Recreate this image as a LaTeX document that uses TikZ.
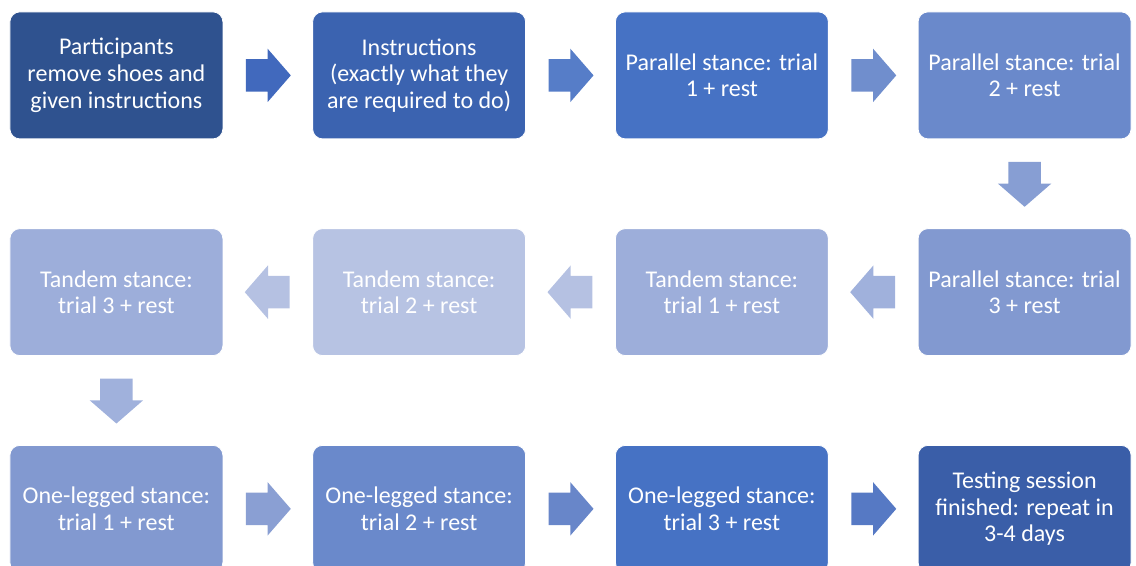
\documentclass[tikz,border=0pt]{standalone}
\usepackage{fontspec}
\setmainfont{Carlito}
\usetikzlibrary{positioning,shapes.arrows}

\definecolor{st1}{RGB}{47,82,143}
\definecolor{st2}{RGB}{59,99,176}
\definecolor{st3}{RGB}{70,114,196}
\definecolor{st4}{RGB}{106,137,203}
\definecolor{st5}{RGB}{130,153,208}
\definecolor{st6}{RGB}{157,174,218}
\definecolor{st7}{RGB}{183,195,227}
\definecolor{st12}{RGB}{58,94,168}
\definecolor{ar1}{RGB}{65,105,189}
\definecolor{ar2}{RGB}{86,125,200}
\definecolor{ar3}{RGB}{112,142,205}
\definecolor{ar4}{RGB}{135,158,211}
\definecolor{ar5}{RGB}{160,177,220}
\definecolor{ar6}{RGB}{181,193,226}
\definecolor{ar9}{RGB}{138,159,211}
\definecolor{ar10}{RGB}{104,134,201}
\definecolor{ar11}{RGB}{86,121,196}

\begin{document}
\begin{tikzpicture}[x=0.75pt,y=0.75pt,node distance=66.7pt,
    stage/.style={rectangle, rounded corners=7.5pt, minimum width=159.75pt,
      minimum height=95.25pt, inner sep=0pt, text=white, align=center,
      font=\fontsize{18}{20}\selectfont, draw=white, line width=0.6pt},
    blk/.style={single arrow, minimum height=33.75pt,
      single arrow head extend=7.875pt, single arrow tip angle=98,
      inner xsep=0pt, inner ysep=12pt, draw=none}]
  \useasboundingbox (0,0) rectangle (1136,-566);
  % first row, left to right
  \node[stage, fill=st1, anchor=north west] (s1) at (9.5,-11.5)
    {Participants\\remove shoes and\\given instructions};
  \node[stage, fill=st2, right=of s1] (s2)
    {Instructions\\(exactly what they\\are required to do)};
  \node[stage, fill=st3, right=of s2] (s3) {Parallel stance: trial\\1 + rest};
  \node[stage, fill=st4, right=of s3] (s4) {Parallel stance: trial\\2 + rest};
  % second row, right to left
  \node[stage, fill=st5, below=of s4] (s5) {Parallel stance: trial\\3 + rest};
  \node[stage, fill=st6, left=of s5] (s6) {Tandem stance:\\trial 1 + rest};
  \node[stage, fill=st7, left=of s6] (s7) {Tandem stance:\\trial 2 + rest};
  \node[stage, fill=st6, left=of s7] (s8) {Tandem stance:\\trial 3 + rest};
  % third row, left to right
  \node[stage, fill=st5, below=of s8] (s9) {One-legged stance:\\trial 1 + rest};
  \node[stage, fill=st4, right=of s9] (s10) {One-legged stance:\\trial 2 + rest};
  \node[stage, fill=st3, right=of s10] (s11) {One-legged stance:\\trial 3 + rest};
  \node[stage, fill=st12, right=of s11] (s12)
    {Testing session\\finished: repeat in\\3-4 days};
  % block arrows
  \foreach \a/\b/\c in {s1/s2/ar1, s2/s3/ar2, s3/s4/ar3, s4/s5/ar4,
      s5/s6/ar5, s6/s7/ar6, s7/s8/ar6, s8/s9/ar5,
      s9/s10/ar9, s10/s11/ar10, s11/s12/ar11}
    \path (\a) -- (\b)
      node[blk, pos=0.25, anchor=tail, sloped, allow upside down, fill=\c] {};
\end{tikzpicture}
\end{document}
